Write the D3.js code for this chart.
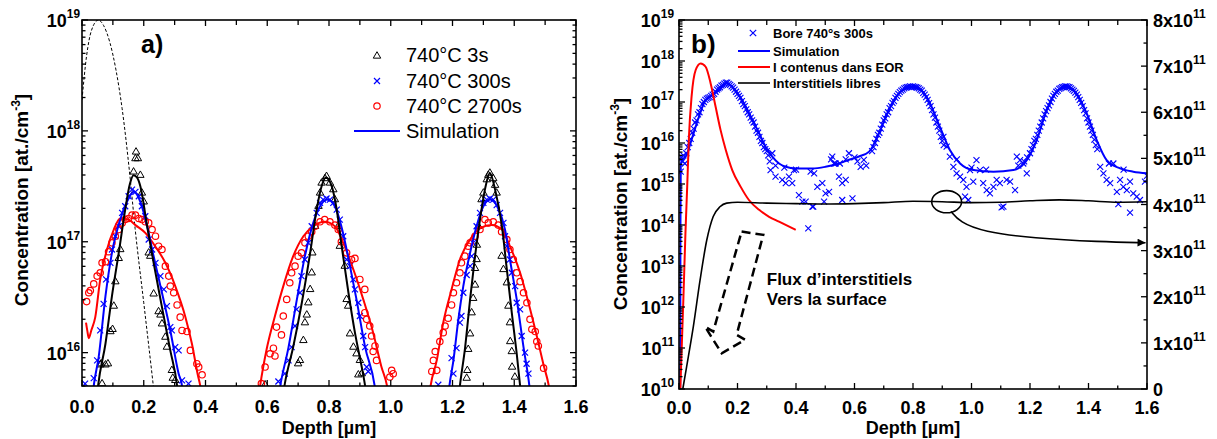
<!DOCTYPE html>
<html><head><meta charset="utf-8">
<script src="https://cdn.jsdelivr.net/npm/d3@7"></script>
<style>body{margin:0;background:#fff}svg{display:block}text{font-family:"Liberation Sans",Arial,sans-serif}</style>
</head><body><svg id="c" width="1217" height="439"></svg>
<script>
// ---------- DATA (depth in µm, concentration given as log10 exponent) ----------
const depthMajor = [0,0.2,0.4,0.6,0.8,1.0,1.2,1.4,1.6];
const depthMinor = [0.1,0.3,0.5,0.7,0.9,1.1,1.3,1.5];
const decadesA = [16,17,18,19];
const decadesB = [10,11,12,13,14,15,16,17,18,19];
const rightTicks = [0,1,2,3,4,5,6,7,8]; // x10^11
const legendA = ["740°C 3s","740°C 300s","740°C 2700s","Simulation"];
const legendB = ["Bore 740°s 300s","Simulation","I contenus dans EOR","Interstitiels libres"];

// Panel a – measured profiles
const tri3s = [[0.059,15.89],[0.062,15.9],[0.065,15.72],[0.076,15.89],[0.084,15.9],[0.092,16.19],[0.099,16.21],[0.103,16.42],[0.108,16.64],[0.119,16.85],[0.124,16.93],[0.167,17.63],[0.173,17.75],[0.181,17.75],[0.175,17.81],[0.189,17.6],[0.194,17.44],[0.2,17.36],[0.216,16.9],[0.221,16.87],[0.232,16.53],[0.248,16.37],[0.254,16.34],[0.259,16.26],[0.27,16.14],[0.275,16.05],[0.291,15.84],[0.294,15.77],[0.302,15.75],
 [0.593,15.71],[0.700,15.9],[0.706,15.93],[0.717,16.11],[0.722,16.27],[0.728,16.34],[0.733,16.45],[0.739,16.57],[0.744,16.72],[0.746,16.9],[0.755,17.14],[0.766,17.32],[0.771,17.44],[0.776,17.53],[0.787,17.57],[0.792,17.59],[0.803,17.53],[0.814,17.47],[0.819,17.38],[0.83,17.14],[0.835,16.96],[0.851,16.78],[0.857,16.48],[0.862,16.42],[0.868,16.17],[0.879,16.05],[0.889,15.99],[0.9,15.93],[0.906,15.81],[0.895,15.8],
 [1.246,15.77],[1.248,15.84],[1.251,16.03],[1.257,16.17],[1.262,16.36],[1.267,16.49],[1.273,16.61],[1.273,16.76],[1.278,16.84],[1.279,16.97],[1.284,17.14],[1.294,17.38],[1.3,17.44],[1.311,17.56],[1.316,17.6],[1.321,17.62],[1.332,17.57],[1.338,17.51],[1.343,17.44],[1.359,16.87],[1.365,16.75],[1.376,16.63],[1.381,16.42],[1.386,16.27],[1.387,16.1],[1.392,16.01],[1.393,15.87],[1.402,15.78]];
const x300s = [[0.01,15.72],[0.038,15.77],[0.049,15.93],[0.059,16.2],[0.07,16.44],[0.078,16.66],[0.092,16.81],[0.097,16.93],[0.108,17.05],[0.119,17.14],[0.13,17.26],[0.14,17.32],[0.151,17.41],[0.162,17.47],[0.173,17.45],[0.184,17.41],[0.194,17.32],[0.205,17.23],[0.216,17.02],[0.227,16.93],[0.238,16.81],[0.254,16.69],[0.265,16.57],[0.275,16.42],[0.286,16.23],[0.291,16.2],[0.302,16.05],[0.313,16.02],[0.324,15.75],[0.345,15.72],
 [0.636,15.74],[0.657,15.81],[0.669,15.93],[0.679,16.05],[0.69,16.24],[0.695,16.39],[0.706,16.54],[0.711,16.69],[0.722,16.84],[0.733,16.99],[0.744,17.14],[0.76,17.26],[0.771,17.35],[0.781,17.38],[0.792,17.39],[0.803,17.38],[0.814,17.35],[0.825,17.29],[0.835,17.2],[0.846,17.05],[0.857,16.84],[0.868,16.78],[0.879,16.66],[0.884,16.57],[0.895,16.45],[0.9,16.33],[0.911,16.15],[0.917,16.05],[0.922,15.87],[0.927,15.83],
 [1.154,15.71],[1.203,15.81],[1.197,15.95],[1.213,16.04],[1.224,16.27],[1.229,16.33],[1.235,16.54],[1.246,16.7],[1.257,16.78],[1.262,16.87],[1.267,16.99],[1.278,17.14],[1.289,17.26],[1.3,17.35],[1.311,17.38],[1.321,17.39],[1.332,17.38],[1.343,17.33],[1.354,17.26],[1.365,17.17],[1.37,17.05],[1.376,16.96],[1.386,16.84],[1.392,16.72],[1.403,16.6],[1.408,16.45],[1.419,16.39],[1.424,16.15],[1.435,16.0],[1.44,15.9],[1.446,15.81]];
const o2700s = [[0.015,16.46],[0.022,16.54],[0.027,16.56],[0.038,16.62],[0.049,16.69],[0.059,16.72],[0.065,16.81],[0.076,16.82],[0.086,16.91],[0.097,16.99],[0.108,17.05],[0.119,17.11],[0.13,17.17],[0.14,17.2],[0.151,17.21],[0.162,17.24],[0.173,17.24],[0.184,17.21],[0.194,17.2],[0.205,17.18],[0.216,17.17],[0.227,17.11],[0.238,17.05],[0.248,16.96],[0.259,16.93],[0.27,16.78],[0.281,16.69],[0.286,16.6],[0.297,16.54],[0.308,16.43],[0.318,16.32],[0.324,16.2],[0.34,16.19],[0.351,16.02],[0.372,15.9],[0.378,15.87],[0.389,15.8],
 [0.581,15.72],[0.593,15.87],[0.609,15.99],[0.62,16.04],[0.625,15.97],[0.63,16.23],[0.646,16.16],[0.652,16.33],[0.663,16.48],[0.673,16.63],[0.679,16.72],[0.69,16.78],[0.7,16.87],[0.711,16.9],[0.722,16.99],[0.733,17.05],[0.744,17.09],[0.755,17.14],[0.771,17.18],[0.786,17.2],[0.803,17.18],[0.819,17.15],[0.83,17.11],[0.84,17.0],[0.857,16.9],[0.873,16.84],[0.884,16.85],[0.9,16.66],[0.916,16.57],[0.916,16.36],[0.922,16.3],[0.932,16.24],[0.938,16.15],[0.949,16.06],[0.943,16.01],[0.954,15.93],[1.003,15.84],[1.008,15.81],[0.997,15.78],
 [1.133,15.83],[1.138,15.93],[1.144,16.01],[1.149,15.84],[1.159,16.1],[1.17,16.18],[1.176,16.24],[1.186,16.31],[1.197,16.43],[1.203,16.54],[1.213,16.63],[1.224,16.72],[1.229,16.81],[1.24,16.87],[1.251,16.96],[1.257,16.99],[1.273,17.05],[1.289,17.11],[1.305,17.2],[1.316,17.17],[1.332,17.18],[1.348,17.15],[1.359,17.09],[1.376,17.02],[1.386,16.93],[1.397,16.84],[1.408,16.72],[1.419,16.64],[1.43,16.54],[1.441,16.45],[1.451,16.3],[1.457,16.21],[1.468,16.19],[1.473,16.1],[1.478,16.06],[1.495,15.86]];

// Panel a – simulations (one segment per peak)
const simBlackA = [
 [[0.048,15.6],[0.052,15.7],[0.076,16.08],[0.097,16.51],[0.119,16.9],[0.14,17.29],[0.155,17.52],[0.167,17.6],[0.178,17.58],[0.189,17.5],[0.211,17.14],[0.232,16.81],[0.259,16.41],[0.286,16.02],[0.308,15.7],[0.312,15.6]],
 [[0.65,15.6],[0.657,15.72],[0.684,16.05],[0.712,16.45],[0.739,16.9],[0.76,17.29],[0.776,17.5],[0.79,17.58],[0.809,17.5],[0.825,17.29],[0.841,16.96],[0.863,16.54],[0.884,16.18],[0.906,15.87],[0.917,15.7],[0.922,15.6]],
 [[1.22,15.6],[1.224,15.7],[1.241,16.05],[1.257,16.48],[1.273,16.87],[1.289,17.2],[1.305,17.47],[1.321,17.62],[1.338,17.47],[1.36,17.14],[1.376,16.75],[1.392,16.36],[1.408,15.99],[1.419,15.7],[1.423,15.6]]];
const simBlueA = [
 [[0.034,15.6],[0.038,15.7],[0.054,15.96],[0.076,16.51],[0.097,16.9],[0.124,17.2],[0.151,17.39],[0.167,17.45],[0.189,17.36],[0.211,17.14],[0.232,16.87],[0.259,16.54],[0.286,16.2],[0.313,15.81],[0.324,15.7],[0.328,15.6]],
 [[0.636,15.6],[0.642,15.7],[0.669,16.05],[0.696,16.48],[0.722,16.87],[0.749,17.17],[0.771,17.32],[0.794,17.38],[0.819,17.32],[0.84,17.14],[0.868,16.78],[0.889,16.48],[0.917,16.05],[0.948,15.7],[0.953,15.6]],
 [[1.186,15.6],[1.19,15.7],[1.203,15.93],[1.219,16.3],[1.235,16.6],[1.257,16.9],[1.278,17.14],[1.3,17.32],[1.323,17.38],[1.348,17.3],[1.37,17.11],[1.386,16.84],[1.408,16.48],[1.43,16.05],[1.449,15.7],[1.453,15.6]]];
const simRedA = [
 [[0.013,16.27],[0.017,16.2],[0.022,16.13],[0.03,16.2],[0.043,16.32],[0.059,16.66],[0.081,16.93],[0.103,17.11],[0.124,17.21],[0.151,17.2],[0.173,17.15],[0.205,17.08],[0.237,16.96],[0.27,16.81],[0.302,16.6],[0.335,16.32],[0.356,16.08],[0.375,15.8],[0.383,15.7],[0.388,15.6]],
 [[0.572,15.6],[0.577,15.7],[0.598,16.03],[0.625,16.33],[0.652,16.6],[0.684,16.87],[0.717,17.05],[0.749,17.14],[0.786,17.18],[0.819,17.14],[0.846,16.99],[0.879,16.75],[0.911,16.48],[0.943,16.18],[0.97,15.87],[0.988,15.7],[0.994,15.6]],
 [[1.124,15.6],[1.129,15.7],[1.149,15.93],[1.17,16.27],[1.197,16.57],[1.224,16.84],[1.257,17.02],[1.289,17.12],[1.327,17.15],[1.36,17.11],[1.386,16.96],[1.419,16.72],[1.446,16.45],[1.473,16.15],[1.494,15.9],[1.512,15.7],[1.518,15.6]]];
const implantA = [[0,18.28],[0.015,18.68],[0.03,18.9],[0.053,19.0],[0.07,18.95],[0.09,18.8],[0.11,18.55],[0.13,18.2],[0.155,17.6],[0.172,17.12],[0.2,16.45],[0.231,15.7],[0.235,15.6]];

// Panel b
const boreB = [[0.003,15.6],[0.006,15.3],[0.008,15.65],[0.012,15.55],[0.015,15.7],[0.02,15.5],[0.025,15.75],[0.03,15.9],
 [0.035,16.0],[0.04,16.1],[0.045,16.25],[0.05,16.35],[0.055,16.5],[0.06,16.55],[0.065,16.7],[0.07,16.75],[0.075,16.85],[0.08,16.95],[0.085,17.0],[0.09,17.05],[0.095,17.08],[0.1,17.1],[0.105,17.12],[0.11,17.15],[0.115,17.18],[0.12,17.2],[0.125,17.25],[0.13,17.3],[0.135,17.33],[0.14,17.36],[0.145,17.4],[0.15,17.42],[0.155,17.45],[0.16,17.47],[0.165,17.47],[0.17,17.44],[0.175,17.42],[0.18,17.38],[0.185,17.35],[0.19,17.3],[0.195,17.25],[0.2,17.2],[0.205,17.15],[0.21,17.1],[0.215,17.02],[0.22,16.95],[0.225,16.9],[0.23,16.82],[0.235,16.75],[0.24,16.7],[0.245,16.62],[0.25,16.55],[0.255,16.5],[0.26,16.4],[0.265,16.3],[0.27,16.25],[0.275,16.15],[0.28,16.05],[0.285,16.0],[0.29,15.9],[0.295,15.85],[0.3,15.8],[0.305,15.7],[0.31,15.55],[0.319,15.75],
 [0.313,15.34],[0.33,15.18],[0.353,15.1],[0.365,15.02],[0.387,15.02],[0.41,14.73],[0.422,14.57],[0.433,14.57],[0.456,14.45],[0.462,15.26],[0.473,14.93],[0.49,15.02],[0.501,14.77],[0.513,14.81],[0.524,15.67],[0.53,15.5],[0.547,15.18],[0.558,15.02],[0.57,15.1],[0.581,15.75],[0.593,14.65],[0.621,15.42],[0.632,15.59],[0.558,14.61],[0.496,14.57],[0.393,15.34],[0.376,15.18],[0.442,13.92],[0.459,14.45],
 [0.33,15.45],[0.36,15.4],[0.4,15.35],[0.45,15.3],[0.52,15.6],[0.535,15.5],[0.55,15.5],[0.57,15.6],[0.6,15.65],[0.61,15.55],[0.64,15.45],[0.66,15.8],
 [0.665,15.9],[0.67,16.0],[0.675,16.1],[0.68,16.2],[0.685,16.25],[0.69,16.35],[0.695,16.45],[0.7,16.55],[0.705,16.6],[0.71,16.7],[0.715,16.75],[0.72,16.85],[0.725,16.9],[0.73,16.98],[0.735,17.02],[0.74,17.1],[0.745,17.15],[0.75,17.2],[0.755,17.24],[0.76,17.28],[0.765,17.3],[0.77,17.33],[0.775,17.35],[0.78,17.36],[0.785,17.37],[0.79,17.38],[0.795,17.37],[0.8,17.38],[0.805,17.37],[0.81,17.36],[0.815,17.35],[0.82,17.33],[0.825,17.3],[0.83,17.28],[0.835,17.22],[0.84,17.18],[0.845,17.12],[0.85,17.05],[0.855,16.97],[0.86,16.9],[0.865,16.8],[0.87,16.7],[0.875,16.62],[0.88,16.5],[0.885,16.4],[0.89,16.3],[0.895,16.15],[0.9,16.05],[0.905,15.95],
 [0.904,16.15],[0.915,15.91],[0.926,15.67],[0.938,15.42],[0.949,15.26],[0.961,15.18],[0.972,15.1],[0.983,14.93],[0.995,15.34],[1.006,15.06],[1.017,15.58],[1.029,15.34],[1.04,15.02],[1.052,14.85],[1.063,14.77],[1.075,14.93],[1.086,15.1],[1.097,15.02],[1.109,14.45],[1.12,15.1],[1.132,15.06],[1.149,14.85],[1.155,15.67],[1.166,15.58],[1.177,15.5],[1.189,15.26],[0.989,14.61],[0.978,14.69],[1.103,14.43],
 [0.95,15.6],[1.0,15.4],[1.05,15.35],[1.16,15.45],[1.18,15.55],[1.19,15.65],
 [1.2,15.75],[1.205,15.85],[1.21,15.95],[1.215,16.05],[1.22,16.1],[1.225,16.2],[1.23,16.3],[1.235,16.4],[1.24,16.5],[1.245,16.6],[1.25,16.7],[1.255,16.78],[1.26,16.85],[1.265,16.92],[1.27,17.0],[1.275,17.08],[1.28,17.15],[1.285,17.2],[1.29,17.25],[1.295,17.28],[1.3,17.32],[1.305,17.34],[1.31,17.36],[1.315,17.37],[1.32,17.38],[1.325,17.38],[1.33,17.37],[1.335,17.36],[1.34,17.33],[1.345,17.3],[1.35,17.27],[1.355,17.23],[1.36,17.18],[1.365,17.12],[1.37,17.05],[1.375,16.98],[1.38,16.9],[1.385,16.8],[1.39,16.72],[1.395,16.6],[1.4,16.5],[1.405,16.4],[1.41,16.3],[1.415,16.2],[1.42,16.08],[1.425,15.95],[1.43,15.85],
 [1.44,15.42],[1.451,15.26],[1.462,15.1],[1.474,15.02],[1.485,15.5],[1.497,14.81],[1.508,15.1],[1.519,14.93],[1.531,14.85],[1.542,15.06],[1.553,14.77],[1.565,14.69],[1.576,14.61],[1.593,15.06],[1.502,14.51],[1.542,14.3],[1.6,15.2],[1.47,15.5],[1.52,15.35]];
const simBlueB = [[0.004,9.9],[0.005,14.0],[0.006,15.45],[0.01,15.58],[0.023,15.67],[0.046,16.15],[0.068,16.64],[0.091,17.05],[0.114,17.17],[0.137,17.29],[0.165,17.46],[0.182,17.37],[0.205,17.17],[0.228,16.89],[0.251,16.56],[0.274,16.24],[0.296,15.91],[0.319,15.67],[0.342,15.5],[0.365,15.42],[0.399,15.38],[0.456,15.38],[0.501,15.42],[0.547,15.5],[0.581,15.59],[0.615,15.67],[0.65,15.79],[0.684,16.24],[0.707,16.64],[0.729,16.97],[0.752,17.21],[0.775,17.33],[0.801,17.37],[0.821,17.33],[0.847,17.12],[0.892,16.39],[0.926,15.83],[0.961,15.5],[1.006,15.34],[1.075,15.3],[1.143,15.34],[1.189,15.58],[1.223,16.07],[1.257,16.8],[1.291,17.25],[1.325,17.37],[1.359,17.21],[1.394,16.72],[1.428,16.07],[1.462,15.58],[1.508,15.38],[1.553,15.3],[1.6,15.26]];
const eorB = [[0.004,9.9],[0.015,12.2],[0.022,13.8],[0.028,14.93],[0.034,16.15],[0.043,17.13],[0.057,17.78],[0.074,17.94],[0.091,17.86],[0.108,17.46],[0.125,16.89],[0.142,16.32],[0.16,15.83],[0.182,15.34],[0.211,14.93],[0.239,14.61],[0.274,14.37],[0.308,14.2],[0.342,14.08],[0.399,13.88]];
const freeIB = [[0.013,0],[0.026,0.48],[0.049,1.35],[0.072,2.36],[0.095,3.23],[0.117,3.74],[0.14,3.95],[0.163,4.03],[0.2,4.05],[0.3,4.03],[0.4,4.02],[0.5,4.01],[0.6,4.02],[0.7,4.04],[0.8,4.07],[0.9,4.06],[1.0,4.04],[1.1,4.05],[1.2,4.08],[1.3,4.1],[1.4,4.08],[1.5,4.05],[1.6,4.06]]; // x10^11, right axis

// ---------- CHART ----------
const svg = d3.select("#c");
const BLUE = "#0000ff", RED = "#ff0000";
const P = v => Math.pow(10, v);

const xA = d3.scaleLinear().domain([0,1.6]).range([82,576]);
const yA = d3.scaleLog().domain([5e15,1e19]).range([386,20]);
const xB = d3.scaleLinear().domain([0,1.6]).range([679,1147]);
const yB = d3.scaleLog().domain([1e10,1e19]).range([389,20]);
const yR = d3.scaleLinear().domain([0,8e11]).range([389,20]);

const defs = svg.append("defs");
defs.append("clipPath").attr("id","clA").append("rect").attr("x",82).attr("y",20).attr("width",494).attr("height",366);
defs.append("clipPath").attr("id","clB").append("rect").attr("x",679).attr("y",20).attr("width",468).attr("height",369);
defs.append("marker").attr("id","ah").attr("viewBox","0 0 10 10").attr("refX",10).attr("refY",5)
  .attr("markerUnits","userSpaceOnUse").attr("markerWidth",9).attr("markerHeight",8).attr("orient","auto")
  .append("path").attr("d","M0,0L10,5L0,10z").attr("fill","#000");

function tick(g,x1,y1,x2,y2){ g.append("line").attr("x1",x1).attr("y1",y1).attr("x2",x2).attr("y2",y2).attr("stroke","#000").attr("stroke-width",1.3); }

function depthAxis(xs, yBot, yTop, fs, base){
  const g = svg.append("g");
  depthMajor.forEach(d=>{ const x=xs(d); tick(g,x,yBot,x,yBot-6); tick(g,x,yTop,x,yTop+6);
    g.append("text").attr("x",x).attr("y",base).attr("text-anchor","middle").attr("font-size",fs).attr("font-weight","bold").text(d3.format(".1f")(d)); });
  depthMinor.forEach(d=>{ const x=xs(d); tick(g,x,yBot,x,yBot-3.5); tick(g,x,yTop,x,yTop+5); });
}
function logAxis(ys, decades, xL, xR, labelX, fs, mirror){
  const g = svg.append("g");
  const [lo,hi] = ys.domain();
  for (let e=Math.floor(Math.log10(lo)); e<=Math.log10(hi); e++){
    for (let m=1;m<10;m++){ const v=m*P(e); if (v<lo*0.999||v>hi*1.001) continue;
      const y=ys(v), L = m===1?6:3.5; tick(g,xL,y,xL+L,y); if (mirror) tick(g,xR,y,xR-L,y); }
  }
  decades.forEach(e=>{ const y=ys(P(e));
    const t=g.append("text").attr("x",labelX).attr("y",y+7).attr("text-anchor","end").attr("font-size",fs).attr("font-weight","bold");
    t.append("tspan").text("10"); t.append("tspan").attr("dy",-9).attr("font-size",fs*0.66).text(e); });
}
function frame(x0,y0,x1,y1){ svg.append("rect").attr("x",x0).attr("y",y0).attr("width",x1-x0).attr("height",y1-y0).attr("fill","none").attr("stroke","#000").attr("stroke-width",1.6); }
function yTitle(x,y){ const t=svg.append("text").attr("transform",`translate(${x},${y}) rotate(-90)`).attr("text-anchor","middle").attr("font-size",19).attr("font-weight","bold");
  t.append("tspan").text("Concentration [at./cm"); t.append("tspan").attr("dy",-8).attr("font-size",12).text("-3"); t.append("tspan").attr("dy",8).text("]"); }
function xTitle(x){ svg.append("text").attr("x",x).attr("y",434).attr("text-anchor","middle").attr("font-size",18).attr("font-weight","bold").text("Depth [µm]"); }

const triSym = d3.symbol().type(d3.symbolTriangle).size(24);
const crossPath = s => `M${-s},${-s}L${s},${s}M${-s},${s}L${s},${-s}`;

// ---- Panel a ----
const gA = svg.append("g").attr("clip-path","url(#clA)");
const lineA = d3.line().x(d=>xA(d[0])).y(d=>yA(P(d[1]))).curve(d3.curveMonotoneX);
gA.append("path").attr("d",lineA(implantA)).attr("fill","none").attr("stroke","#000").attr("stroke-width",1).attr("stroke-dasharray","3,2");
gA.selectAll(".tri").data(tri3s).join("path").attr("d",triSym).attr("transform",d=>`translate(${xA(d[0])},${yA(P(d[1]))})`).attr("fill","none").attr("stroke","#000").attr("stroke-width",1);
gA.selectAll(".crs").data(x300s).join("path").attr("d",crossPath(3)).attr("transform",d=>`translate(${xA(d[0])},${yA(P(d[1]))})`).attr("fill","none").attr("stroke",BLUE).attr("stroke-width",1.2);
gA.selectAll(".cir").data(o2700s).join("circle").attr("cx",d=>xA(d[0])).attr("cy",d=>yA(P(d[1]))).attr("r",3.2).attr("fill","none").attr("stroke",RED).attr("stroke-width",1.2);
[[simRedA,RED],[simBlueA,BLUE],[simBlackA,"#000"]].forEach(([segs,c])=>segs.forEach(s=>
  gA.append("path").attr("d",lineA(s)).attr("fill","none").attr("stroke",c).attr("stroke-width",2)));
frame(82,20,576,386);
depthAxis(xA,386,20,18,413);
logAxis(yA,decadesA,82,576,80,18,true);
yTitle(28,200); xTitle(329);
svg.append("text").attr("x",141).attr("y",53).attr("font-size",25).attr("font-weight","bold").text("a)");
// legend a
const lgA = svg.append("g");
const rowsA=[55,81,106,131];
lgA.append("path").attr("d",triSym()).attr("transform",`translate(377,${rowsA[0]+1})`).attr("fill","none").attr("stroke","#000");
lgA.append("path").attr("d",crossPath(3)).attr("transform",`translate(377,${rowsA[1]})`).attr("stroke",BLUE).attr("stroke-width",1.2);
lgA.append("circle").attr("cx",377).attr("cy",rowsA[2]).attr("r",3.2).attr("fill","none").attr("stroke",RED).attr("stroke-width",1.2);
lgA.append("line").attr("x1",354).attr("x2",400).attr("y1",rowsA[3]).attr("y2",rowsA[3]).attr("stroke",BLUE).attr("stroke-width",2);
legendA.forEach((t,i)=>lgA.append("text").attr("x",406).attr("y",rowsA[i]+7).attr("font-size",20).text(t));

// ---- Panel b ----
const gB = svg.append("g").attr("clip-path","url(#clB)");
const lineB = d3.line().x(d=>xB(d[0])).y(d=>yB(P(d[1]))).curve(d3.curveMonotoneX);
const lineR = d3.line().x(d=>xB(d[0])).y(d=>yR(d[1]*1e11)).curve(d3.curveMonotoneX);
gB.selectAll(".bx").data(boreB).join("path").attr("d",crossPath(3)).attr("transform",d=>`translate(${xB(d[0])},${yB(P(d[1]))})`).attr("fill","none").attr("stroke",BLUE).attr("stroke-width",1.1);
gB.append("path").attr("d",lineB(simBlueB)).attr("fill","none").attr("stroke",BLUE).attr("stroke-width",2);
gB.append("path").attr("d",lineB(eorB)).attr("fill","none").attr("stroke",RED).attr("stroke-width",2);
gB.append("path").attr("d",lineR(freeIB)).attr("fill","none").attr("stroke","#000").attr("stroke-width",1.6);
frame(679,20,1147,389);
depthAxis(xB,389,20,18,414);
logAxis(yB,decadesB,679,1147,674,18,false);
// right linear axis
const gR = svg.append("g");
rightTicks.forEach(v=>{ const y=yR(v*1e11); tick(gR,1147,y,1141,y);
  if (v<8) tick(gR,1147,yR((v+0.5)*1e11),1143.5,yR((v+0.5)*1e11));
  const t=gR.append("text").attr("x",1153).attr("y",y+7).attr("font-size",18).attr("font-weight","bold");
  if (v===0) t.text("0"); else { t.append("tspan").text(v+"x10"); t.append("tspan").attr("dy",-9).attr("font-size",12).text("11"); } });
yTitle(627,204); xTitle(913);
svg.append("text").attr("x",691).attr("y",53).attr("font-size",26).attr("font-weight","bold").text("b)");
// legend b
const lgB = svg.append("g"); const rowsB=[33,51,67,83];
lgB.append("path").attr("d",crossPath(3.2)).attr("transform",`translate(753,${rowsB[0]})`).attr("stroke",BLUE).attr("stroke-width",1.2);
[[BLUE,1],[RED,2],["#000",3]].forEach(([c,i])=>lgB.append("line").attr("x1",738).attr("x2",770).attr("y1",rowsB[i]).attr("y2",rowsB[i]).attr("stroke",c).attr("stroke-width",c==="#000"?1.6:2));
legendB.forEach((t,i)=>lgB.append("text").attr("x",773).attr("y",rowsB[i]+5).attr("font-size",13).attr("font-weight","bold").text(t));

// annotations (data coordinates)
const fluxArrow = [[0.214,13.84],[0.288,13.76],[0.197,11.32],[0.226,11.2],[0.146,10.87],[0.089,11.52],[0.117,11.4]];
svg.append("path").attr("d",d3.line().x(d=>xB(d[0])).y(d=>yB(P(d[1])))(fluxArrow)+"Z").attr("fill","none").attr("stroke","#000").attr("stroke-width",2.5).attr("stroke-dasharray","9,5");
const fluxText = ["Flux d’interstitiels","Vers la surface"];
[[12.54],[12.05]].forEach((p,i)=>svg.append("text").attr("x",xB(0.30)).attr("y",yB(P(p[0]))).attr("font-size",17).attr("font-weight","bold").text(fluxText[i]));
const ell = {cx:0.915, cy:4.06, rx:0.051, ry:0.24};
svg.append("ellipse").attr("cx",xB(ell.cx)).attr("cy",yR(ell.cy*1e11)).attr("rx",xB(ell.rx)-xB(0)).attr("ry",yR(0)-yR(ell.ry*1e11)).attr("fill","none").attr("stroke","#000").attr("stroke-width",1.6);
const curveArrow = [[0.93,3.85],[0.96,3.62],[1.04,3.41],[1.21,3.27],[1.44,3.19],[1.595,3.17]];
svg.append("path").attr("d",d3.line().x(d=>xB(d[0])).y(d=>yR(d[1]*1e11)).curve(d3.curveBasis)(curveArrow)).attr("fill","none").attr("stroke","#000").attr("stroke-width",1.6).attr("marker-end","url(#ah)");
</script></body></html>
